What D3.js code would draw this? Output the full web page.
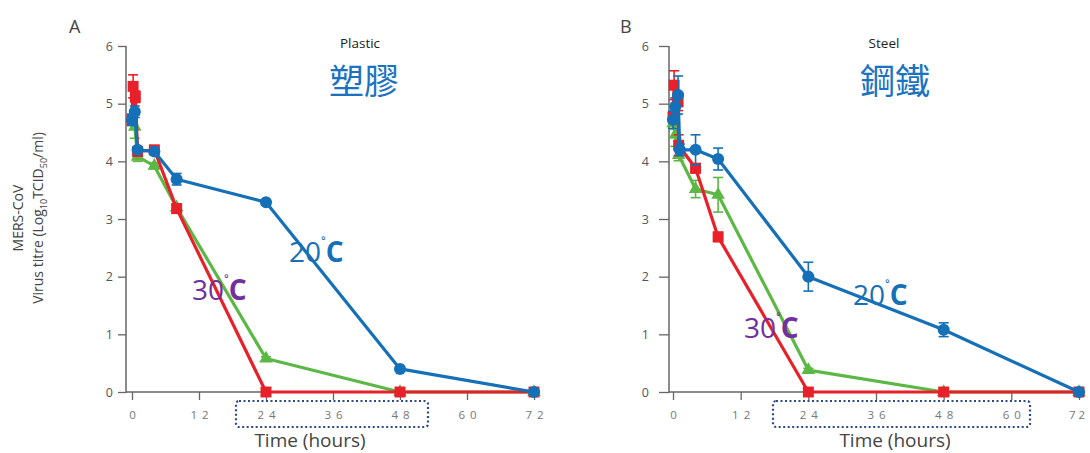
<!DOCTYPE html>
<html><head><meta charset="utf-8">
<script src="https://cdn.jsdelivr.net/npm/d3@7"></script>
<style>
body{margin:0;background:#fff;}
svg{display:block;font-family:"Open Sans","Noto Sans",sans-serif;}
</style></head>
<body><svg id="c" width="1090" height="453"></svg>
<script>
// ---- data ----
const xTicks = [0, 12, 24, 36, 48, 60, 72];
const yTicks = [0, 1, 2, 3, 4, 5, 6];

const plasticBlueT = [0, 0.5, 1, 4, 8, 24, 48, 72];
const plasticBlueV = [4.72, 4.86, 4.2, 4.17, 3.69, 3.29, 0.4, 0];
const plasticBlueE = [0.1, 0.1, 0.05, 0.05, 0.1, 0.03, 0.03, 0];
const plasticRedT = [0, 0.2, 0.6, 1, 4, 8, 24, 48, 72];
const plasticRedV = [4.72, 5.3, 5.12, 4.17, 4.2, 3.18, 0, 0, 0];
const plasticRedE = [0.05, 0.2, 0.1, 0.05, 0.05, 0.08, 0, 0, 0];
const plasticGreenT = [0, 0.5, 1, 4, 8, 24, 48, 72];
const plasticGreenV = [4.7, 4.6, 4.08, 3.92, 3.2, 0.58, 0, 0];
const plasticGreenE = [0.05, 0.2, 0.08, 0.05, 0.05, 0.03, 0, 0];

const steelBlueT = [0, 0.4, 0.9, 1.2, 4, 8, 24, 48, 72];
const steelBlueV = [4.72, 4.95, 5.15, 4.2, 4.2, 4.04, 2.0, 1.08, 0];
const steelBlueE = [0.15, 0.15, 0.33, 0.1, 0.26, 0.19, 0.25, 0.12, 0];
const steelRedT = [0, 0.2, 0.9, 1, 4, 8, 24, 48, 72];
const steelRedV = [4.77, 5.32, 5.03, 4.28, 3.88, 2.69, 0, 0, 0];
const steelRedE = [0.1, 0.25, 0.15, 0.18, 0.08, 0.08, 0, 0, 0];
const steelGreenT = [0, 0.4, 1, 4, 8, 24, 48, 72];
const steelGreenV = [4.66, 4.46, 4.11, 3.52, 3.42, 0.38, 0, 0];
const steelGreenE = [0.1, 0.2, 0.1, 0.15, 0.3, 0.03, 0, 0];

const BLUE = "#1570b8", RED = "#e8202a", GREEN = "#5cb845", PURPLE = "#7030a0";

const svg = d3.select("#c");

function zip(T, V, E){ return T.map((t,i)=>({t, v:V[i], e:E[i]})); }

function panel(cfg){
  const g = svg.append("g");
  const x = d3.scaleLinear().domain([0,72]).range([cfg.x0, cfg.x72]);
  const y = d3.scaleLinear().domain([0,6]).range([392, 46]);

  // y axis
  const ya = d3.axisLeft(y).tickValues(yTicks).tickSize(cfg.ytick).tickPadding(cfg.ypad).tickSizeOuter(0)
    .tickFormat(d3.format("d"));
  const yg = g.append("g").attr("transform", `translate(${cfg.axX},0)`).call(ya);
  yg.select(".domain").remove();
  yg.append("line").attr("x1",0).attr("x2",0).attr("y1",y(6)).attr("y2",y(0)+1).attr("stroke","#666").attr("stroke-width",1.5);
  yg.selectAll(".tick line").attr("stroke","#666").attr("stroke-width",1.3);
  yg.selectAll(".tick text").attr("fill","#555").style("font-size","12.5px").style("font-family","'Open Sans',sans-serif");

  // x axis
  const xa = d3.axisBottom(x).tickValues(xTicks).tickSize(8).tickPadding(11).tickSizeOuter(0)
    .tickFormat(d=>String(d));
  const xg = g.append("g").attr("transform", `translate(0,392)`).call(xa);
  xg.select(".domain").remove();
  xg.append("line").attr("x1",cfg.axX).attr("x2",cfg.x72+6).attr("y1",0).attr("y2",0).attr("stroke","#666").attr("stroke-width",1.5);
  xg.selectAll(".tick line").attr("stroke","#666").attr("stroke-width",1.3);
  xg.selectAll(".tick text").attr("fill","#777").style("font-size","11.5px")
    .style("letter-spacing","5px").attr("dx","2.5px").style("font-family","'Open Sans',sans-serif");
  if (cfg.lastTight) {
    xg.selectAll(".tick text").filter(d=>d===72).style("letter-spacing","3px").attr("dx","-1px");
  }

  // axis label
  g.append("text").attr("x",cfg.xlabX).attr("y",447).attr("text-anchor","middle")
    .attr("fill","#444").style("font-size","19px").text("Time (hours)");

  // dotted box
  g.append("rect").attr("x",cfg.box[0]).attr("y",401).attr("width",cfg.box[1]-cfg.box[0]).attr("height",26)
    .attr("rx",3).attr("fill","none").attr("stroke","#2b4a8a").attr("stroke-width",2.2).attr("stroke-dasharray","2,2.5");

  const line = d3.line().x(d=>x(d.t)).y(d=>y(d.v));
  const series = [
    {d: zip(...cfg.green), c: GREEN, m: "tri"},
    {d: zip(...cfg.red), c: RED, m: "sq"},
    {d: zip(...cfg.blue), c: BLUE, m: "circ"}
  ];
  series.forEach(s=>{
    const sg = g.append("g");
    s.d.filter(p=>p.e>0).forEach(p=>{
      const cx = x(p.t), y1 = y(p.v+p.e), y2 = y(p.v-p.e);
      sg.append("line").attr("x1",cx).attr("x2",cx).attr("y1",y1).attr("y2",y2).attr("stroke",s.c).attr("stroke-width",1.6);
      sg.append("line").attr("x1",cx-5).attr("x2",cx+5).attr("y1",y1).attr("y2",y1).attr("stroke",s.c).attr("stroke-width",1.6);
      sg.append("line").attr("x1",cx-5).attr("x2",cx+5).attr("y1",y2).attr("y2",y2).attr("stroke",s.c).attr("stroke-width",1.6);
    });
    sg.append("path").datum(s.d).attr("d",line).attr("fill","none").attr("stroke",s.c).attr("stroke-width",3.2).attr("stroke-linejoin","round");
    const sym = s.m==="tri" ? d3.symbolTriangle : s.m==="sq" ? d3.symbolSquare : d3.symbolCircle;
    const size = s.m==="tri" ? 80 : s.m==="sq" ? 120 : 115;
    sg.selectAll("path.m").data(s.d).join("path").attr("class","m")
      .attr("transform",p=>`translate(${x(p.t)},${y(p.v)})`)
      .attr("d", d3.symbol().type(sym).size(size)).attr("fill",s.c);
  });

  // panel letter
  g.append("text").attr("x",cfg.letterX).attr("y",33).attr("fill","#444").style("font-size","18px").text(cfg.letter);
  // titles
  g.append("text").attr("x",cfg.titleX).attr("y",48).attr("text-anchor","middle").attr("fill","#222")
    .style("font-size","13.5px").text(cfg.title);
  g.append("text").attr("x",cfg.cnX).attr("y",94).attr("text-anchor","middle").attr("fill","#1a73c0")
    .style("font-family","'Noto Sans CJK TC',sans-serif").style("font-size","35px").style("font-weight","400").text(cfg.cn);

  // temperature labels
  function temp(tx, ty, color, num){
    const t = g.append("text").attr("x",tx).attr("y",ty).attr("fill",color).style("font-size","28px")
      .style("font-family","'Open Sans',sans-serif");
    t.append("tspan").text(num);
    t.append("tspan").attr("dy","-12").style("font-size","16px").text("˚");
    t.append("tspan").attr("dy","12").style("font-weight","bold").text("C");
  }
  temp(cfg.t20[0], cfg.t20[1], BLUE, "20");
  temp(cfg.t30[0], cfg.t30[1], PURPLE, "30");
}

panel({x0:132, x72:534, axX:126, ytick:8, ypad:5, xlabX:310, box:[236,428], letter:"A", letterX:69,
  title:"Plastic", titleX:360, cn:"塑膠", cnX:364, lastTight:false,
  blue:[plasticBlueT,plasticBlueV,plasticBlueE], red:[plasticRedT,plasticRedV,plasticRedE], green:[plasticGreenT,plasticGreenV,plasticGreenE],
  t20:[289,262], t30:[192,300]});
panel({x0:673, x72:1079, axX:669, ytick:10, ypad:10, xlabX:895, box:[773,1030], letter:"B", letterX:620,
  title:"Steel", titleX:884, cn:"鋼鐵", cnX:895, lastTight:true,
  blue:[steelBlueT,steelBlueV,steelBlueE], red:[steelRedT,steelRedV,steelRedE], green:[steelGreenT,steelGreenV,steelGreenE],
  t20:[853,305], t30:[744,338]});

// y axis title
const yt = svg.append("text").attr("transform","translate(23,218) rotate(-90)").attr("text-anchor","middle")
  .attr("fill","#444").style("font-size","14px");
yt.append("tspan").attr("x",0).attr("dy",0).text("MERS-CoV");
const l2 = yt.append("tspan").attr("x",0).attr("dy",20);
l2.text("Virus titre (Log");
yt.append("tspan").attr("dy",4).style("font-size","9px").text("10");
yt.append("tspan").attr("dy",-4).text("TCID");
yt.append("tspan").attr("dy",4).style("font-size","9px").text("50");
yt.append("tspan").attr("dy",-4).text("/ml)");
</script></body></html>
